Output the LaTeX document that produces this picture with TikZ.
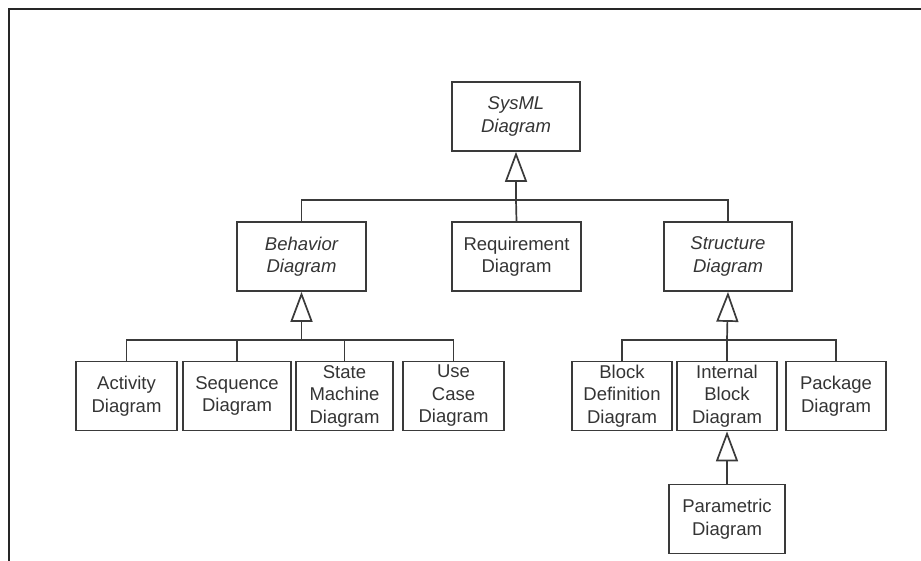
\documentclass[tikz,border=0pt]{standalone}
\usepackage{fontspec}
\setmainfont{Liberation Sans}
\usetikzlibrary{arrows.meta, positioning}
\definecolor{ink}{HTML}{3A3A3A}
\tikzset{
  box/.style = {rectangle, draw=ink, line width=1.7pt, text=ink!90!black,
      minimum width=#1, minimum height=69pt,
      inner sep=2pt, align=center,
      font=\fontsize{18.5}{22.5}\selectfont},
  box/.default = 100pt, % box width
  abox/.style = {box=#1, font=\fontsize{18.5}{22.5}\selectfont\itshape},
  abox/.default = 128pt,
  link/.style = {draw=ink, line width=1.7pt},
  gen/.style = {link, -{Triangle[open, length=30pt, width=22pt, fill=white]}},
  frame/.style = {draw=black!85, line width=2pt},
}

\begin{document}
\begin{tikzpicture}[x=1pt, y=-1pt]
  \useasboundingbox (0,0) rectangle (921,561);
  \draw[frame] (921,9) -- (9,9) -- (9,561);

  % top levels
  \node[abox=128pt] (sysml) at (516,116.5) {SysML\\Diagram};
  \node[abox=129pt] (behavior) at (301.5,256.5) {Behavior\\Diagram};
  \node[box=129pt] (requirement) at (516.5,256.5) {Requirement\\Diagram};
  \node[abox=128pt] (structure) at (728,256.5) {Structure\\Diagram};

  % behavior kinds
  \node[box=101pt] (activity) at (126.5,396) {Activity\\Diagram};
  \node[box=108pt] (sequence) at (237,396) {Sequence\\Diagram};
  \node[box=97pt] (statemachine) at (344.5,396) {State\\Machine\\Diagram};
  \node[box=101pt] (usecase) at (453.5,396) {Use\\Case\\Diagram};

  % structure kinds
  \node[box=100pt] (blockdef) at (622,396) {Block\\Definition\\Diagram};
  \node[box=100pt] (internal) at (727,396) {Internal\\Block\\Diagram};
  \node[box=100pt] (package) at (836,396) {Package\\Diagram};
  \node[box=116pt] (parametric) at (727,519) {Parametric\\Diagram};

  \coordinate (topbus) at (516,200);
  \coordinate (behbus) at (301.5,340);
  \coordinate (strbus) at (727,340);

  \draw[link] (behavior.north) -- (behavior.north |- topbus)
    -- (structure.north |- topbus) -- (structure.north);
  \draw[link] (requirement.north) -- (topbus);
  \draw[gen] (topbus) -- (sysml.south);

  \draw[link] (activity.north) -- (activity.north |- behbus)
    -- (usecase.north |- behbus) -- (usecase.north);
  \draw[link] (sequence.north) -- (sequence.north |- behbus);
  \draw[link] (statemachine.north) -- (statemachine.north |- behbus);
  \draw[gen] (behbus) -- (behavior.south);

  \draw[link] (blockdef.north) -- (blockdef.north |- strbus)
    -- (package.north |- strbus) -- (package.north);
  \draw[link] (internal.north) -- (strbus);
  \draw[gen] (strbus) -- (structure.south);

  \draw[gen] (parametric.north) -- (internal.south);
\end{tikzpicture}
\end{document}
